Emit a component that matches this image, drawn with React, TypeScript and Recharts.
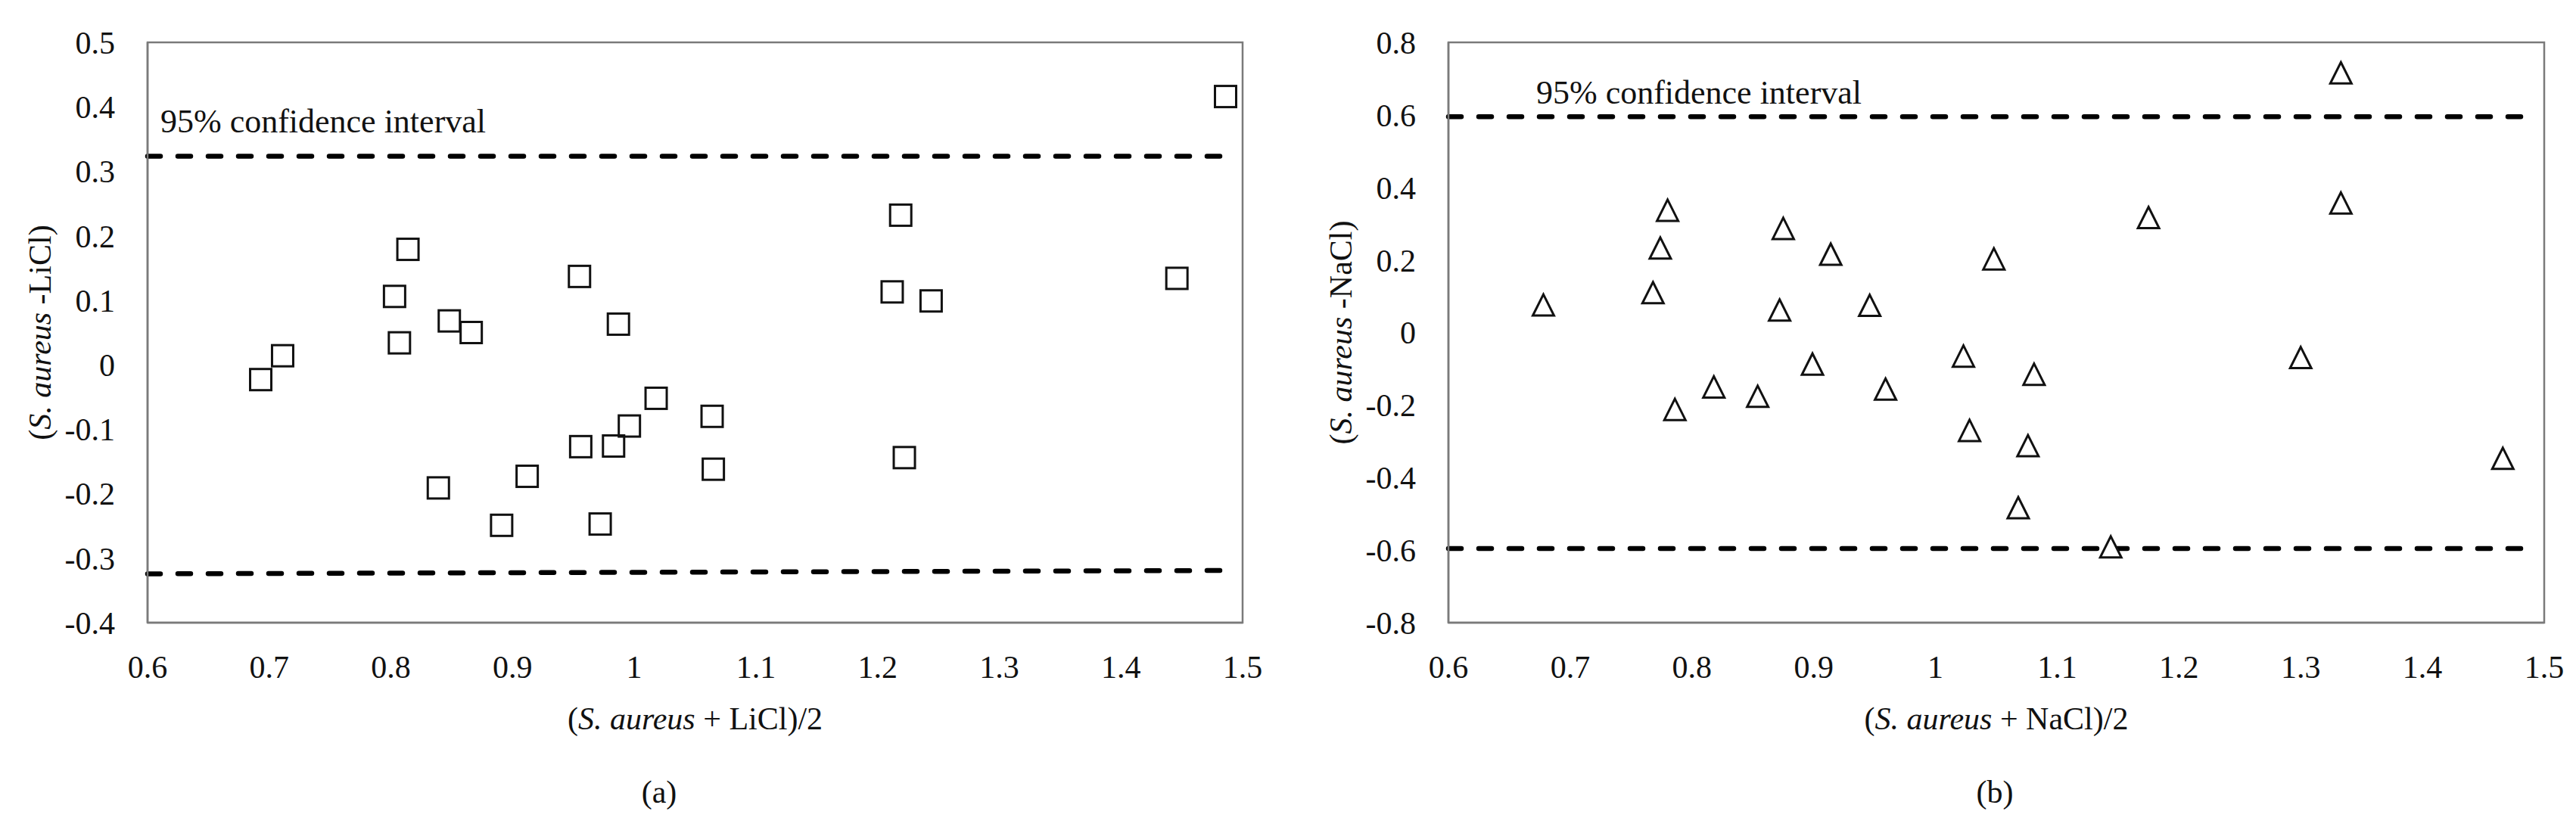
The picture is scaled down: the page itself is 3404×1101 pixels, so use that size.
import React from "react";
import {
  Label,
  ReferenceArea,
  ReferenceLine,
  Scatter,
  ScatterChart,
  XAxis,
  YAxis,
} from "recharts";

// (a) S. aureus vs LiCl - Bland-Altman: mean on x, difference on y
const liclMean = [
  0.693, 0.711, 0.803, 0.814, 0.807, 0.848, 0.866, 0.955, 0.987, 1.018, 0.996, 0.956, 0.983,
  0.912, 0.839, 0.891, 0.972, 1.064, 1.065, 1.222, 1.486, 1.219, 1.212, 1.244, 1.446,
];
const liclDiff = [
  -0.023, 0.014, 0.106, 0.179, 0.034, 0.068, 0.05, 0.137, 0.063, -0.052, -0.095, -0.127, -0.126,
  -0.173, -0.191, -0.249, -0.247, -0.08, -0.162, -0.144, 0.416, 0.232, 0.113, 0.099, 0.134,
];
// limits of agreement: [left y, right y]
const liclUpper = [0.3235, 0.3235];
const liclLower = [-0.3243, -0.319];
const liclTicksY = [-0.4, -0.3, -0.2, -0.1, 0, 0.1, 0.2, 0.3, 0.4, 0.5];

// (b) S. aureus vs NaCl
const naclMean = [
  0.678, 0.78, 0.774, 0.768, 0.875, 0.914, 0.872, 0.946, 0.899, 0.818, 0.854, 0.959, 0.786,
  1.023, 1.333, 1.333, 1.175, 1.048, 1.081, 1.3, 1.028, 1.076, 1.068, 1.144, 1.466,
];
const naclDiff = [
  0.076, 0.337, 0.233, 0.11, 0.287, 0.216, 0.062, 0.075, -0.087, -0.15, -0.176, -0.156, -0.212,
  -0.065, 0.716, 0.357, 0.317, 0.203, -0.115, -0.069, -0.27, -0.312, -0.483, -0.591, -0.347,
];
const naclUpper = [0.595, 0.595];
const naclLower = [-0.5955, -0.5955];
const naclTicksY = [-0.8, -0.6, -0.4, -0.2, 0, 0.2, 0.4, 0.6, 0.8];

const ticksX = [0.6, 0.7, 0.8, 0.9, 1, 1.1, 1.2, 1.3, 1.4, 1.5];
const lineStart = 0.6;

const FONT = "'Liberation Serif', 'Times New Roman', serif";
const AXIS = "#7a7a7a";
const INK = "#111";

const fmt = (v: number) => String(Number(v.toFixed(1)));

function Square(p: any) {
  const s = 28;
  return (
    <rect x={p.cx - s / 2} y={p.cy - s / 2} width={s} height={s} fill="none" stroke={INK} strokeWidth={3} />
  );
}

// open triangles are white-filled, so the dashed limit line is hidden behind them
function Triangle(p: any) {
  const w = 28;
  const h = 28;
  const { cx, cy } = p;
  return (
    <path
      d={`M${cx},${cy - h / 2} L${cx + w / 2},${cy + h / 2} L${cx - w / 2},${cy + h / 2} Z`}
      fill="#fff"
      stroke={INK}
      strokeWidth={3}
      strokeLinejoin="miter"
    />
  );
}

const tickStyle = { fill: INK, fontSize: 42, fontFamily: FONT };

type PanelProps = {
  left: number;
  width: number;
  marginLeft: number;
  marginRight: number;
  mean: number[];
  diff: number[];
  upper: number[];
  lower: number[];
  lineEnd: number;
  ticksY: number[];
  salt: string;
  tag: string;
  tagX: number;
  noteDx: number;
  noteDy: number;
  marker: "square" | "triangle";
};

function Panel(props: PanelProps) {
  const { mean, diff, ticksY, salt } = props;
  const data = mean.map((x, i) => ({ x, y: diff[i] }));
  const yMin = ticksY[0];
  const yMax = ticksY[ticksY.length - 1];

  const xTitle = ({ viewBox }: any) => {
    const cx = viewBox.x + viewBox.width / 2;
    return (
      <g fontFamily={FONT} fill={INK}>
        <text x={cx} y={viewBox.y + 141} textAnchor="middle" fontSize={42}>
          (<tspan fontStyle="italic">S. aureus</tspan> + {salt})/2
        </text>
        <text x={props.tagX - props.left} y={viewBox.y + 238} textAnchor="middle" fontSize={42}>
          {props.tag}
        </text>
      </g>
    );
  };

  const yTitle = ({ viewBox }: any) => {
    const cx = viewBox.x + viewBox.width - 142;
    const cy = viewBox.y + viewBox.height / 2;
    return (
      <text
        x={cx}
        y={cy}
        dy="0.33em"
        transform={`rotate(-90 ${cx} ${cy})`}
        textAnchor="middle"
        fontSize={42}
        fontFamily={FONT}
        fill={INK}
      >
        (<tspan fontStyle="italic">S. aureus</tspan> -{salt})
      </text>
    );
  };

  const note = ({ viewBox }: any) => (
    <text
      x={viewBox.x + props.noteDx}
      y={viewBox.y + props.noteDy}
      fontSize={44}
      fontFamily={FONT}
      fill={INK}
    >
      95% confidence interval
    </text>
  );

  const dash = {
    stroke: "#000",
    strokeWidth: 6.5,
    strokeDasharray: "17 23",
    strokeLinecap: "round" as const,
  };

  return (
    <div style={{ position: "absolute", left: props.left, top: 0 }}>
      <ScatterChart
        width={props.width}
        height={1101}
        margin={{ top: 56, right: props.marginRight, bottom: 178, left: props.marginLeft }}
      >
        <XAxis
          type="number"
          dataKey="x"
          domain={[0.6, 1.5]}
          ticks={ticksX}
          tickFormatter={fmt}
          allowDataOverflow
          height={100}
          tickSize={0}
          tickMargin={43}
          tick={tickStyle}
          axisLine={{ stroke: AXIS, strokeWidth: 2.5 }}
        >
          <Label content={xTitle} />
        </XAxis>
        <YAxis
          type="number"
          dataKey="y"
          domain={[yMin, yMax]}
          ticks={ticksY}
          tickFormatter={fmt}
          allowDataOverflow
          width={100}
          tickSize={0}
          tickMargin={43}
          tick={tickStyle}
          axisLine={{ stroke: AXIS, strokeWidth: 2.5 }}
        >
          <Label content={yTitle} />
        </YAxis>
        <ReferenceArea x1={0.6} x2={1.5} y1={yMin} y2={yMax} fill="none" stroke={AXIS} strokeWidth={2.5} />
        <ReferenceLine
          segment={[
            { x: lineStart, y: props.upper[0] },
            { x: props.lineEnd, y: props.upper[1] },
          ]}
          {...dash}
        >
          <Label content={note} />
        </ReferenceLine>
        <ReferenceLine
          segment={[
            { x: lineStart, y: props.lower[0] },
            { x: props.lineEnd, y: props.lower[1] },
          ]}
          {...dash}
        />
        <Scatter
          data={data}
          isAnimationActive={false}
          shape={(p: any) => (props.marker === "square" ? <Square {...p} /> : <Triangle {...p} />)}
        />
      </ScatterChart>
    </div>
  );
}

export default function App() {
  return (
    <div style={{ position: "relative", width: 3404, height: 1101, background: "#fff" }}>
      <style>{"body{margin:0;background:#fff}"}</style>
      <Panel
        left={0}
        width={1700}
        marginLeft={95}
        marginRight={58}
        mean={liclMean}
        diff={liclDiff}
        upper={liclUpper}
        lower={liclLower}
        lineEnd={1.489}
        ticksY={liclTicksY}
        salt="LiCl"
        tag="(a)"
        tagX={871}
        noteDx={17}
        noteDy={-31}
        marker="square"
      />
      <Panel
        left={1700}
        width={1704}
        marginLeft={114}
        marginRight={42}
        mean={naclMean}
        diff={naclDiff}
        upper={naclUpper}
        lower={naclLower}
        lineEnd={1.485}
        ticksY={naclTicksY}
        salt="NaCl"
        tag="(b)"
        tagX={2636}
        noteDx={116}
        noteDy={-17}
        marker="triangle"
      />
    </div>
  );
}
